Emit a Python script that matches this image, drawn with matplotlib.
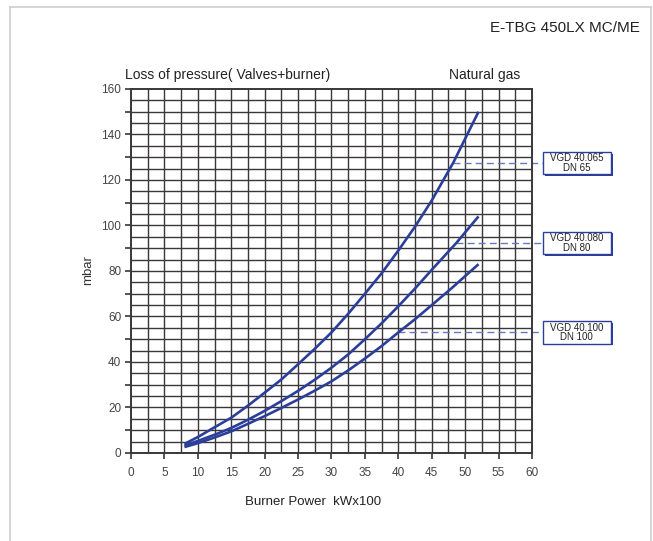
import numpy as np
import matplotlib
matplotlib.use("Agg")
import matplotlib.pyplot as plt
from matplotlib.patches import Rectangle
from matplotlib.lines import Line2D

plt.rcParams["font.family"] = ["Liberation Sans", "DejaVu Sans"]

# burner power (kW x 100) and pressure loss (mbar)
power_dn65 = [8, 10, 12.5, 15, 17.5, 20, 22.5, 25, 27.5, 30, 32.5, 35, 37.5, 40, 42.5, 45, 48.2, 52]
loss_dn65 = [4, 7, 11.3, 15.5, 20.8, 26.5, 32.3, 39, 45.8, 53, 61.2, 70, 79, 89, 99.5, 111, 127.5, 150]

power_dn80 = [8, 10, 12.5, 15, 17.5, 20, 22.5, 25, 27.5, 30, 32.5, 35, 37.5, 40, 42.5, 45, 48.7, 52]
loss_dn80 = [3.2, 5.3, 8, 11, 14.6, 18.5, 22.8, 27.3, 32.2, 37.5, 43.3, 50, 57, 64.5, 72.3, 80.5, 92.4, 104]

power_dn100 = [8, 10, 12.5, 15, 17.5, 20, 22.5, 25, 27.5, 30, 32.5, 35, 37.5, 40, 42.5, 45, 48, 52]
loss_dn100 = [2.6, 4.3, 6.8, 9.5, 12.8, 16.2, 19.8, 23.5, 27.4, 31.5, 36.3, 41.5, 47, 53, 58.8, 65, 72.5, 83]

valve_labels = ["VGD 40.065\nDN 65", "VGD 40.080\nDN 80", "VGD 40.100\nDN 100"]
label_x = [48.2, 48.7, 40.0]
label_y = [127.5, 92.4, 53.0]

xticks = np.arange(0, 61, 5)
yticks = np.arange(0, 161, 20)

BLUE = "#2b3f9a"
GRID = "#3b3638"

fig = plt.figure(figsize=(6.53, 5.41), dpi=100)
fig.patch.set_facecolor("white")

# light frame around the sheet
frame = [((0.016, 0.016), (0.0, 0.987)), ((0.016, 0.997), (0.987, 0.987)),
         ((0.997, 0.997), (0.987, 0.0))]
for xs, ys in frame:
    fig.add_artist(Line2D(xs, ys, color="#cfcfcf", lw=1.2, transform=fig.transFigure))

ax = fig.add_axes([0.2006, 0.1627, 0.6141, 0.6728])
ax.set_xlim(0, 60)
ax.set_ylim(0, 160)

# grid
for gx in np.arange(2.5, 60, 2.5):
    ax.axvline(gx, color=GRID, lw=1.0, zorder=1)
for gy in np.arange(5, 160, 5):
    ax.axhline(gy, color=GRID, lw=1.0, zorder=1)
for s in ax.spines.values():
    s.set_color(GRID)
    s.set_linewidth(1.4)

ax.set_xticks(xticks)
ax.set_yticks(yticks)
ax.set_yticks(np.arange(10, 160, 20), minor=True)
ax.tick_params(axis="both", which="both", direction="out", length=4, width=1.2,
               color=GRID, labelsize=8.5, labelcolor="#444444")
ax.tick_params(axis="x", pad=6)
ax.tick_params(axis="y", pad=3)

for px, py in [(power_dn65, loss_dn65), (power_dn80, loss_dn80), (power_dn100, loss_dn100)]:
    ax.plot(px, py, color=BLUE, lw=1.9, zorder=3, solid_joinstyle="round",
            solid_capstyle="butt")

# valve labels with dashed leaders
box_left, box_right, box_h = 61.6, 71.8, 9.8
for txt, lx, ly in zip(valve_labels, label_x, label_y):
    ax.plot([lx, box_left], [ly, ly], color="#6678c0", lw=1.0, ls=(0, (5, 3)),
            clip_on=False, zorder=2)
    shadow = Rectangle((box_left + 0.3, ly - box_h / 2 - 0.8), box_right - box_left, box_h,
                       facecolor=BLUE, edgecolor="none", clip_on=False, zorder=4)
    ax.add_patch(shadow)
    box = Rectangle((box_left, ly - box_h / 2), box_right - box_left, box_h,
                    facecolor="white", edgecolor=BLUE, lw=1.0, clip_on=False, zorder=5)
    ax.add_patch(box)
    ax.text((box_left + box_right) / 2, ly, txt, ha="center", va="center", fontsize=7,
            color="#222222", linespacing=0.95, zorder=6, clip_on=False)

fig.text(0.980, 0.948, "E-TBG 450LX MC/ME", ha="right", va="center", fontsize=11,
         color="#222222")
fig.text(0.191, 0.862, "Loss of pressure( Valves+burner)", ha="left", va="center",
         fontsize=10, color="#222222")
fig.text(0.797, 0.862, "Natural gas", ha="right", va="center", fontsize=10, color="#222222")
fig.text(0.135, 0.50, "mbar", ha="center", va="center", rotation=90, fontsize=9.5,
         color="#333333")
fig.text(0.48, 0.072, "Burner Power  kWx100", ha="center", va="center", fontsize=9.5,
         color="#222222")

fig.savefig("out.png", dpi=100, facecolor="white")
